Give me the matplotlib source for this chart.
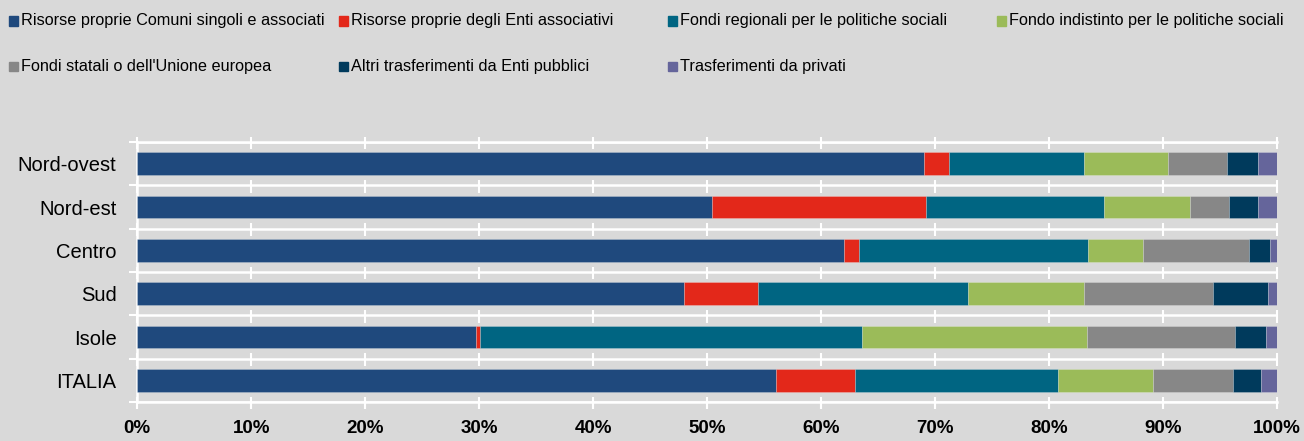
import matplotlib
matplotlib.use('Agg')
import matplotlib.pyplot as plt
from matplotlib.patches import Rectangle
import numpy as np

plt.rcParams['font.family'] = ['Liberation Sans', 'DejaVu Sans']

# Regions (top to bottom)
regions = ['Nord-ovest', 'Nord-est', 'Centro', 'Sud', 'Isole', 'ITALIA']

# Shares (%) per source of funding
comuni = [69.0, 50.4, 62.0, 48.0, 29.7, 56.0]
enti_assoc = [2.2, 18.8, 1.3, 6.5, 0.4, 7.0]
fondi_reg = [11.9, 15.6, 20.1, 18.4, 33.5, 17.8]
fondo_indist = [7.3, 7.6, 4.8, 10.2, 19.7, 8.3]
fondi_stat = [5.2, 3.4, 9.3, 11.3, 13.0, 7.0]
altri_trasf = [2.7, 2.5, 1.9, 4.8, 2.7, 2.5]
privati = [1.7, 1.7, 0.6, 0.8, 1.0, 1.4]

series_names = ['Risorse proprie Comuni singoli e associati',
                'Risorse proprie degli Enti associativi',
                'Fondi regionali per le politiche sociali',
                'Fondo indistinto per le politiche sociali',
                "Fondi statali o dell'Unione europea",
                'Altri trasferimenti da Enti pubblici',
                'Trasferimenti da privati']
series_vals = [comuni, enti_assoc, fondi_reg, fondo_indist, fondi_stat, altri_trasf, privati]
colors = ['#1f497d', '#e3281a', '#006582', '#9bbb59', '#878787', '#003a5c', '#65659b']

xticks = np.arange(0, 101, 10)
xlabels = ['%d%%' % x for x in xticks]

bg = '#d9d9d9'

fig = plt.figure(figsize=(13.04, 4.41), dpi=100, facecolor=bg)
ax = fig.add_axes([0.1053, 0.0884, 0.8740, 0.5896])
ax.set_facecolor(bg)

y = np.arange(len(regions))
left = np.zeros(len(regions))
for name, vals, c in zip(series_names, series_vals, colors):
    ax.barh(y, vals, left=left, height=0.53, color=c,
            edgecolor=(1, 1, 1, 0.25), linewidth=0.6, label=name, zorder=3)
    left += np.array(vals)

ax.set_xlim(0, 100)
ax.set_ylim(len(regions) - 0.5, -0.5)

# category separators and short white marks at each 10%
bounds = np.arange(len(regions) + 1) - 0.5
ax.set_yticks(y)
ax.set_yticklabels(regions, fontsize=14.5)
ax.set_yticks(bounds, minor=True)
ax.tick_params(axis='y', which='major', length=0, pad=15)
ax.tick_params(axis='y', which='minor', length=6, width=1.5, color='white', direction='out')
ax.grid(axis='y', which='minor', color='white', lw=1.8, zorder=1)
for b in bounds:
    ax.vlines(xticks, b - 0.12, b + 0.17, color='white', lw=1.5, zorder=2, clip_on=False)

ax.set_xticks(xticks)
ax.set_xticklabels(xlabels, fontsize=13.5, fontweight='bold')
ax.tick_params(axis='x', length=5, width=1.5, color='white', pad=8)

for s in ['right']:
    ax.spines[s].set_visible(False)
for s in ['left', 'top', 'bottom']:
    ax.spines[s].set_color('white')
    ax.spines[s].set_linewidth(1.8)

# legend laid out like the original (fixed-width entries, 4 per row)
W, H = 1304.0, 441.0
col_x = [9, 339, 668, 997]
row_y = [21, 66]
sq = 9
for i, (name, c) in enumerate(zip(series_names, colors)):
    cx = col_x[i % 4]
    cy = row_y[i // 4]
    fig.add_artist(Rectangle((cx / W, 1 - (cy + sq / 2) / H), sq / W, sq / H,
                             transform=fig.transFigure, color=c))
    fig.text((cx + sq + 3) / W, 1 - cy / H, name, fontsize=11.7,
             ha='left', va='center')

fig.savefig('out.png', dpi=100, facecolor=bg)
